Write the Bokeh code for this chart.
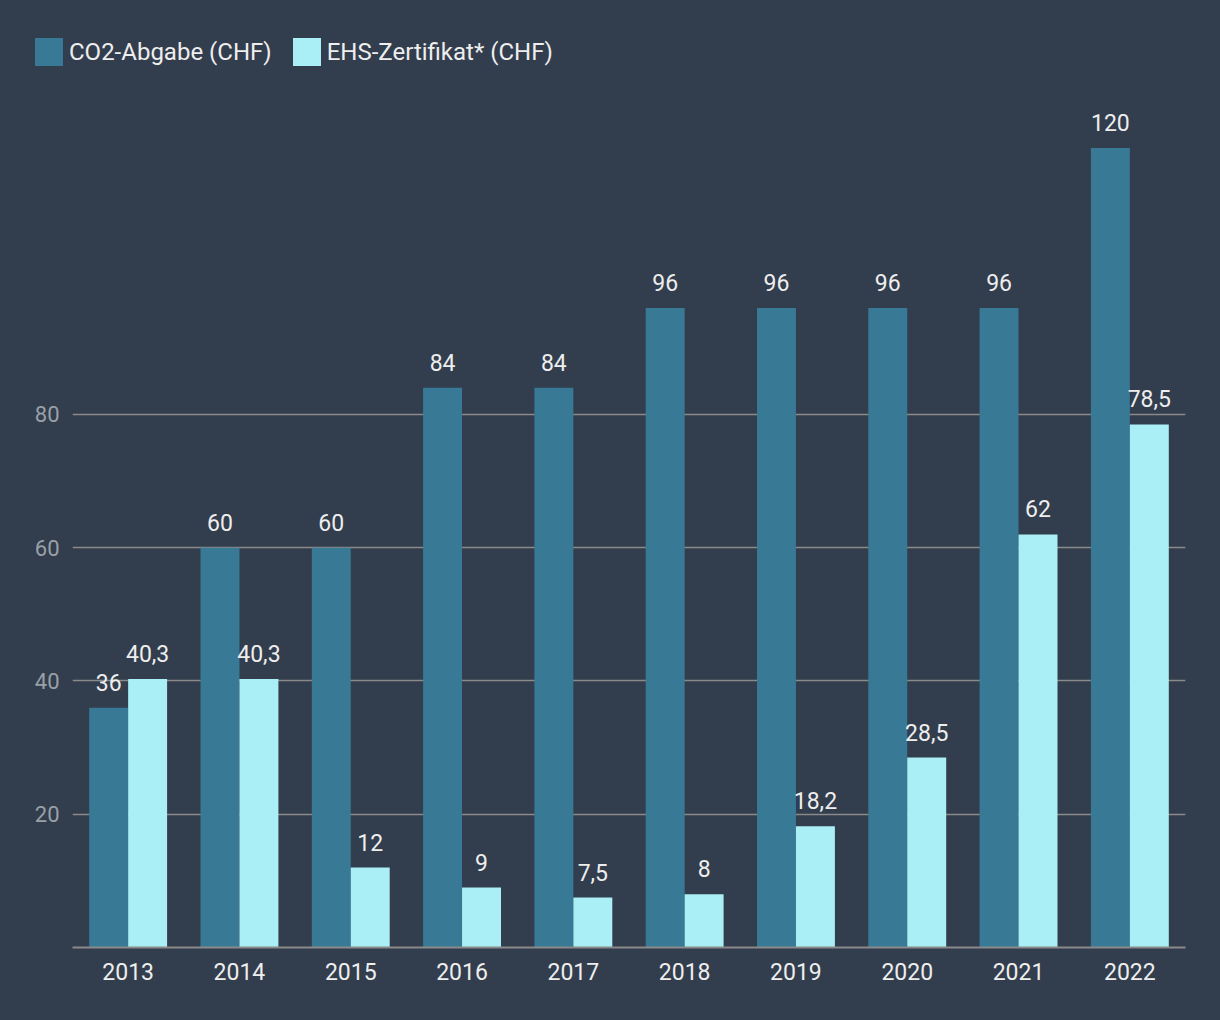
from bokeh.plotting import figure
from bokeh.models import (ColumnDataSource, FactorRange, Range1d, FixedTicker, Legend,
                          LegendItem, LabelSet)
from bokeh.core.properties import value
from bokeh.transform import dodge
from bokeh.embed import file_html
from bokeh.resources import INLINE

years = ["2013", "2014", "2015", "2016", "2017", "2018", "2019", "2020", "2021", "2022"]
co2 = [36, 60, 60, 84, 84, 96, 96, 96, 96, 120]
ehs = [40.3, 40.3, 12, 9, 7.5, 8, 18.2, 28.5, 62, 78.5]
y_ticks = [20, 40, 60, 80]
series_names = ["CO2-Abgabe (CHF)", "EHS-Zertifikat* (CHF)"]

BG = "#323d4d"
C1 = "#387a96"
C2 = "#aaeff6"
TXT = "#eeeeee"
GRID = "#8a8a8a"
FONT = "Roboto"

def fmt(v):
    s = ("%g" % v)
    return s.replace(".", ",")

src = ColumnDataSource(dict(
    years=years, co2=co2, ehs=ehs,
    co2_lbl=[fmt(v) for v in co2], ehs_lbl=[fmt(v) for v in ehs],
))

# ---- legend strip (separate root, drawn above the chart) ----
lg = figure(width=1220, height=90, x_range=Range1d(0, 1), y_range=Range1d(0, 1),
            x_axis_type=None, y_axis_type=None, output_backend="svg", toolbar_location=None,
            min_border_left=0, min_border_right=0, min_border_top=0, min_border_bottom=0)
lg.background_fill_color = BG
lg.border_fill_color = BG
lg.outline_line_color = None
lg.grid.visible = False
lg.styles = {"background-color": BG}
proxy = ColumnDataSource(dict(x=[-5], top=[-5]))  # legend proxies, outside the view
d1 = lg.vbar(x="x", top="top", width=0.1, source=proxy, fill_color=C1, line_color=None)
d2 = lg.vbar(x="x", top="top", width=0.1, source=proxy, fill_color=C2, line_color=None)
legend = Legend(items=[LegendItem(label=series_names[0], renderers=[d1]),
                       LegendItem(label=series_names[1], renderers=[d2])],
                orientation="horizontal", location=(31, 21),
                glyph_width=35, glyph_height=35, label_standoff=3, spacing=17,
                padding=0, margin=0, label_text_color=TXT, label_text_font=FONT,
                label_text_font_size="24px", background_fill_alpha=0,
                border_line_color=None, label_height=35)
lg.add_layout(legend)

# ---- chart ----
p = figure(width=1220, height=930, x_range=FactorRange(*years),
           y_range=Range1d(0, 128.63), output_backend="svg", toolbar_location=None,
           min_border_left=72, min_border_right=35, min_border_top=0, min_border_bottom=73)
p.background_fill_color = BG
p.border_fill_color = BG
p.outline_line_color = None
p.styles = {"background-color": BG}

r1 = p.vbar(x=dodge("years", -0.175, range=p.x_range), top="co2", width=0.35, source=src,
            fill_color=C1, line_color=None)
r2 = p.vbar(x=dodge("years", 0.175, range=p.x_range), top="ehs", width=0.35, source=src,
            fill_color=C2, line_color=None)

for col, lbl, off in (("co2", "co2_lbl", -0.175), ("ehs", "ehs_lbl", 0.175)):
    ls = LabelSet(x=dodge("years", off, range=p.x_range), y=col, text=lbl, source=src,
                  text_align="center", text_baseline="alphabetic", y_offset=17,
                  text_color=TXT, text_font=value(FONT), text_font_size="23px")
    p.add_layout(ls)

p.yaxis.ticker = FixedTicker(ticks=y_ticks)
p.ygrid.ticker = FixedTicker(ticks=y_ticks)
p.ygrid.grid_line_color = GRID
p.ygrid.grid_line_width = 1.5
p.xgrid.grid_line_color = None
p.yaxis.axis_line_color = None
p.yaxis.major_tick_line_color = None
p.yaxis.minor_tick_line_color = None
p.yaxis.major_label_text_color = "#9aa0a8"
p.yaxis.major_label_text_font = FONT
p.yaxis.major_label_text_font_size = "22px"
p.yaxis.major_label_standoff = 7

p.xaxis.axis_line_color = GRID
p.xaxis.axis_line_width = 2
p.xaxis.major_tick_line_color = None
p.xaxis.minor_tick_line_color = None
p.xaxis.major_label_text_color = TXT
p.xaxis.major_label_text_font = FONT
p.xaxis.major_label_text_font_size = "23px"
p.xaxis.major_label_standoff = 9

open("out.html", "w").write(file_html([lg, p], INLINE))
